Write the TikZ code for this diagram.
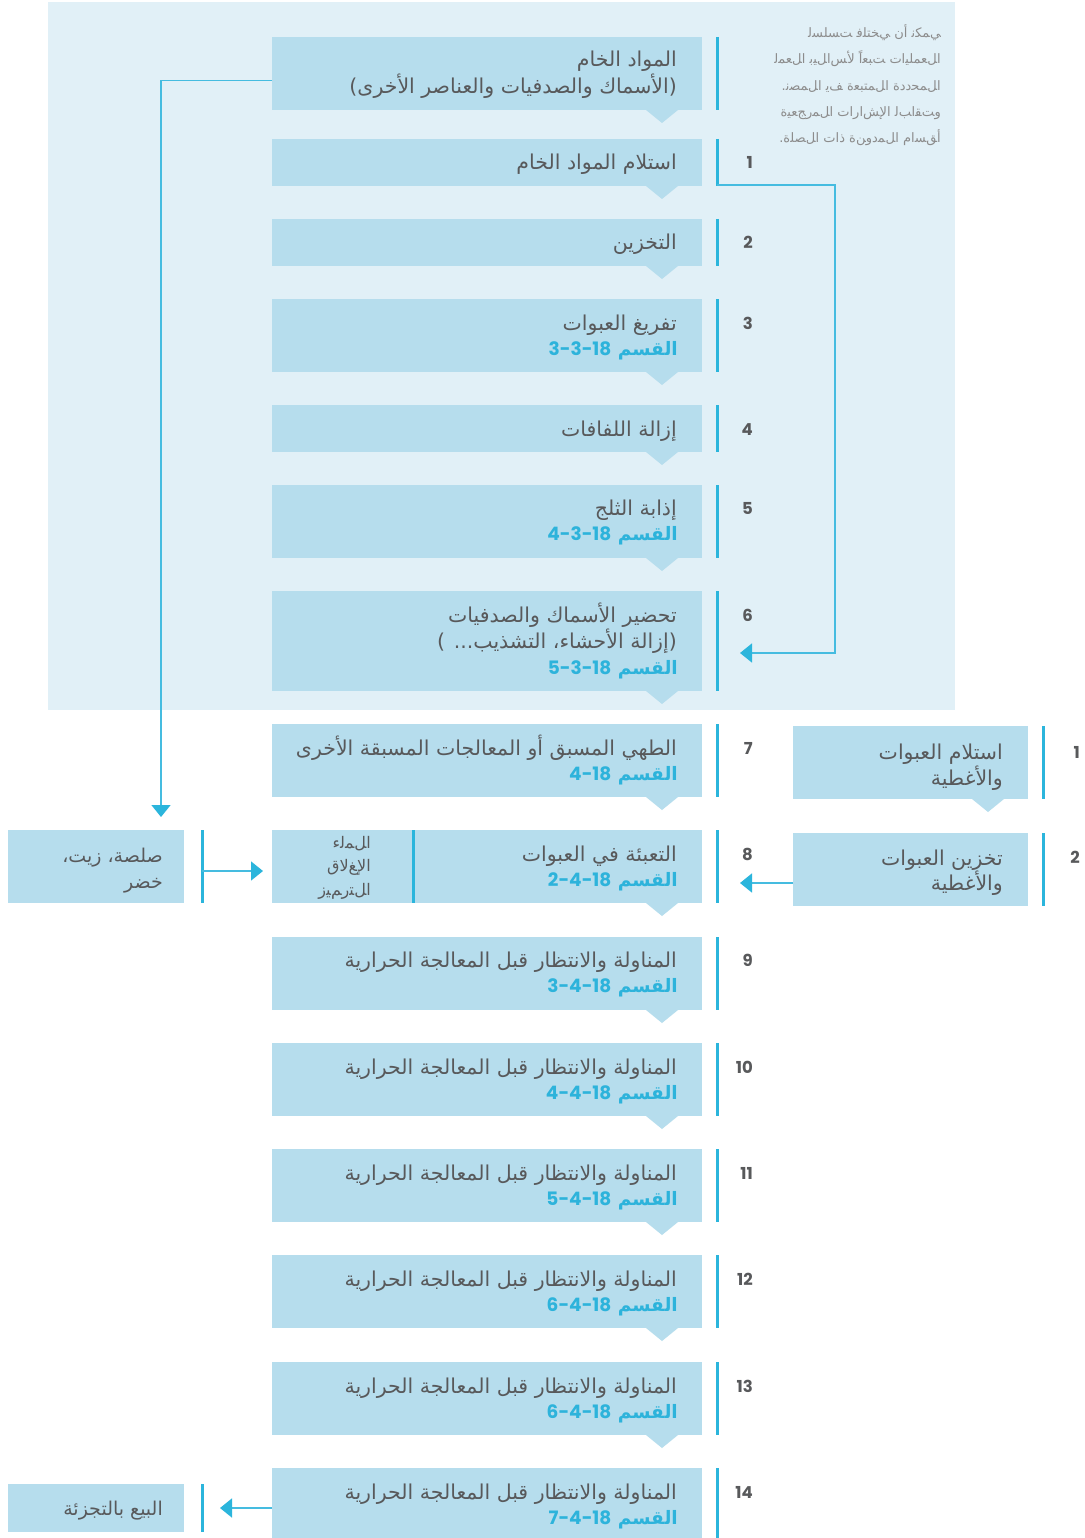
\documentclass[tikz,border=0pt]{standalone}
\usepackage{fontspec}
\usetikzlibrary{arrows.meta}
\TeXXeTstate=1
\newfontfamily\arabicfont[Script=Arabic]{DejaVu Sans}
\newfontfamily\numfont{Poppins}
\definecolor{panelc}{HTML}{E1F0F7}
\definecolor{boxc}{HTML}{B6DDED}
\definecolor{barc}{HTML}{2BB5DC}
\definecolor{linec}{HTML}{45BCE0}
\definecolor{txtc}{HTML}{58595B}
\definecolor{secc}{HTML}{2DB3DB}
\definecolor{notec}{HTML}{8C8C8C}
\newcommand\ar[1]{\beginR#1\endR}
\newcommand\secref[1]{{\color{secc}\beginR\bfseries القسم \beginL{\numfont\bfseries #1}\endL\endR}}
\def\zwj{^^^^200d}
\newcommand\Gi[1]{\hbox{#1\zwj}}
\newcommand\Gm[1]{\hbox{\zwj#1\zwj}}
\newcommand\Gf[1]{\hbox{\zwj#1}}
\newcommand\Gs[1]{\hbox{#1}}
\newcommand\droptri[1]{\fill[boxc] ([xshift=-56pt]#1.south east) -- ++(32,0) -- ++(-16,13) -- cycle;}
\newcommand\vbar[2]{\draw[bar] ([xshift=#2]#1.north east) -- ([xshift=#2]#1.south east);}
\begin{document}
\begin{tikzpicture}[x=1pt,y=-1pt,
  box/.style={fill=boxc,inner sep=0pt,outer sep=0pt,anchor=north west},
  bar/.style={draw=barc,line width=3pt},
  conn/.style={draw=linec,line width=1.6pt},
  arrowhd/.style={-{Triangle[width=19pt,length=12pt,color=barc]}},
  mt/.style={font=\arabicfont\fontsize{20.5}{24}\selectfont,text=txtc,anchor=base east,inner sep=0pt},
  lt/.style={font=\arabicfont\fontsize{19}{22}\selectfont,text=txtc,anchor=base east,inner sep=0pt},
  st/.style={font=\arabicfont\fontsize{18.5}{22}\selectfont,anchor=base east,inner sep=0pt},
  num/.style={font=\numfont\bfseries\fontsize{16.5}{19}\selectfont,text=txtc,anchor=base east,inner sep=0pt},
  nt/.style={font=\arabicfont\fontsize{13}{15}\selectfont,text=notec,anchor=base east,inner sep=0pt},
  smt/.style={font=\arabicfont\fontsize{16}{18}\selectfont,text=txtc,anchor=base east,inner sep=0pt}
]
\useasboundingbox (0,0) rectangle (1084,1538);
\fill[white] (0,0) rectangle (1084,1538);
\fill[panelc] (48,2) rectangle (955,710);

% note
\node[nt] (nl1) at (941,38) {\Gi{ل}\Gm{س}\Gm{ل}\Gm{س}\Gf{ت} \Gi{ف}\Gm{ل}\Gm{ت}\Gm{خ}\Gf{ي} \Gs{ن}\Gs{أ} \Gi{ن}\Gm{ك}\Gm{م}\Gf{ي}};
\node[nt] (nl2) at (941,64) {\Gi{ل}\Gm{م}\Gm{ع}\Gf{ل}\Gs{ا} \Gi{ب}\Gm{ي}\Gf{ل}\Gs{ا}\Gf{س}\Gs{لأ} \Gs{اً}\Gm{ع}\Gm{ب}\Gf{ت} \Gs{ت}\Gs{ا}\Gm{ي}\Gm{ل}\Gm{م}\Gm{ع}\Gf{ل}\Gs{ا}};
\node[nt] (nl3) at (941,91) {\Gs{.}\Gi{ن}\Gm{ص}\Gm{م}\Gf{ل}\Gs{ا} \Gi{ي}\Gf{ف} \Gs{ة}\Gm{ع}\Gm{ب}\Gm{ت}\Gm{م}\Gf{ل}\Gs{ا} \Gs{ة}\Gs{د}\Gs{د}\Gm{ح}\Gm{م}\Gf{ل}\Gs{ا}};
\node[nt] (nl4) at (941,117) {\Gs{ة}\Gm{ي}\Gm{ع}\Gf{ج}\Gs{ر}\Gm{م}\Gf{ل}\Gs{ا} \Gs{ت}\Gs{ا}\Gs{ر}\Gs{ا}\Gf{ش}\Gs{لإ}\Gs{ا} \Gi{ل}\Gf{ب}\Gs{ا}\Gm{ق}\Gf{ت}\Gs{و}};
\node[nt] (nl5) at (941,143) {\Gs{.}\Gs{ة}\Gm{ل}\Gm{ص}\Gf{ل}\Gs{ا} \Gs{ت}\Gs{ا}\Gs{ذ} \Gs{ة}\Gf{ن}\Gs{و}\Gs{د}\Gm{م}\Gf{ل}\Gs{ا} \Gs{م}\Gs{ا}\Gm{س}\Gf{ق}\Gs{أ}};

% main boxes
\node[box,minimum width=430pt,minimum height=73pt] (b0) at (272,37) {};
\node[box,minimum width=430pt,minimum height=47pt] (b1) at (272,139) {};
\node[box,minimum width=430pt,minimum height=47pt] (b2) at (272,219) {};
\node[box,minimum width=430pt,minimum height=73pt] (b3) at (272,299) {};
\node[box,minimum width=430pt,minimum height=47pt] (b4) at (272,405) {};
\node[box,minimum width=430pt,minimum height=73pt] (b5) at (272,485) {};
\node[box,minimum width=430pt,minimum height=100pt] (b6) at (272,591) {};
\node[box,minimum width=430pt,minimum height=73pt] (b7) at (272,724) {};
\node[box,minimum width=430pt,minimum height=73pt] (b8) at (272,830) {};
\node[box,minimum width=430pt,minimum height=73pt] (b9) at (272,937) {};
\node[box,minimum width=430pt,minimum height=73pt] (b10) at (272,1043) {};
\node[box,minimum width=430pt,minimum height=73pt] (b11) at (272,1149) {};
\node[box,minimum width=430pt,minimum height=73pt] (b12) at (272,1255) {};
\node[box,minimum width=430pt,minimum height=73pt] (b13) at (272,1362) {};
\node[box,minimum width=430pt,minimum height=70pt] (b14) at (272,1468) {};
\foreach \b in {b0,b1,b2,b3,b4,b5,b6,b7,b8,b9,b10,b11,b12,b13}{\droptri{\b}}
\foreach \b in {b0,b1,b2,b3,b4,b5,b6,b7,b8,b9,b10,b11,b12,b13,b14}{\vbar{\b}{15pt}}
\draw[bar] (413,830) -- (413,903);

% side boxes
\node[box,minimum width=235pt,minimum height=73pt] (r1) at (793,726) {};
\node[box,minimum width=235pt,minimum height=73pt] (r2) at (793,833) {};
\droptri{r1}
\vbar{r1}{15pt}
\vbar{r2}{15pt}
\node[box,minimum width=176pt,minimum height=73pt] (l1) at (8,830) {};
\node[box,minimum width=176pt,minimum height=48pt] (l2) at (8,1484) {};
\vbar{l1}{18pt}
\vbar{l2}{18pt}

% texts
\node[mt] (t0a) at (677,67) {\ar{المواد الخام}};
\node[mt] (t0b) at (677,94) {\ar{(الأسماك والصدفيات والعناصر الأخرى)}};
\node[mt] (t1) at (677,170) {\ar{استلام المواد الخام}};
\node[mt] (t2) at (677,250) {\ar{التخزين}};
\node[mt] (t3a) at (677,330) {\ar{تفريغ العبوات}};
\node[st] (t3b) at (678,355) {\secref{3-3-18}};
\node[mt] (t4) at (677,436) {\ar{إزالة اللفافات}};
\node[mt] (t5a) at (677,515) {\ar{إذابة الثلج}};
\node[st] (t5b) at (678,540) {\secref{4-3-18}};
\node[mt] (t6a) at (677,622) {\ar{تحضير الأسماك والصدفيات}};
\node[mt] (t6b) at (677,648) {\ar{(إزالة الأحشاء، التشذيب... )}};
\node[st] (t6c) at (678,674) {\secref{5-3-18}};
\node[mt] (t7a) at (677,755) {\ar{الطهي المسبق أو المعالجات المسبقة الأخرى}};
\node[st] (t7b) at (678,780) {\secref{4-18}};
\node[mt] (t8a) at (677,861) {\ar{التعبئة في العبوات}};
\node[st] (t8b) at (678,886) {\secref{2-4-18}};
\node[mt] (t9a) at (677,967) {\ar{المناولة والانتظار قبل المعالجة الحرارية}};
\node[st] (t9b) at (678,992) {\secref{3-4-18}};
\node[mt] (t10a) at (677,1074) {\ar{المناولة والانتظار قبل المعالجة الحرارية}};
\node[st] (t10b) at (678,1099) {\secref{4-4-18}};
\node[mt] (t11a) at (677,1180) {\ar{المناولة والانتظار قبل المعالجة الحرارية}};
\node[st] (t11b) at (678,1205) {\secref{5-4-18}};
\node[mt] (t12a) at (677,1286) {\ar{المناولة والانتظار قبل المعالجة الحرارية}};
\node[st] (t12b) at (678,1311) {\secref{6-4-18}};
\node[mt] (t13a) at (677,1393) {\ar{المناولة والانتظار قبل المعالجة الحرارية}};
\node[st] (t13b) at (678,1418) {\secref{6-4-18}};
\node[mt] (t14a) at (677,1499) {\ar{المناولة والانتظار قبل المعالجة الحرارية}};
\node[st] (t14b) at (678,1524) {\secref{7-4-18}};

\node[smt] (t8l1) at (371,848) {\Gs{ء}\Gi{ل}\Gm{م}\Gf{ل}\Gs{ا}};
\node[smt] (t8l2) at (371,871) {\Gs{ق}\Gs{لا}\Gf{غ}\Gs{لإ}\Gs{ا}};
\node[smt] (t8l3) at (371,895) {\Gs{ز}\Gm{ي}\Gf{م}\Gs{ر}\Gm{ت}\Gf{ل}\Gs{ا}};

\node[mt] (tr1a) at (1003,759) {\ar{استلام العبوات}};
\node[mt] (tr1b) at (1003,785) {\ar{والأغطية}};
\node[mt] (tr2a) at (1003,865) {\ar{تخزين العبوات}};
\node[mt] (tr2b) at (1003,890) {\ar{والأغطية}};
\node[lt] (tl1a) at (163,862) {\ar{صلصة، زيت،}};
\node[lt] (tl1b) at (163,888) {\ar{خضر}};
\node[lt] (tl2) at (163,1515) {\ar{البيع بالتجزئة}};

% numbers
\node[num] (n1) at (753,169) {1};
\node[num] (n2) at (753,249) {2};
\node[num] (n3) at (753,329) {3};
\node[num] (n4) at (753,435) {4};
\node[num] (n5) at (753,514) {5};
\node[num] (n6) at (753,621) {6};
\node[num] (n7) at (753,754) {7};
\node[num] (n8) at (753,860) {8};
\node[num] (n9) at (753,966) {9};
\node[num] (n10) at (753,1073) {10};
\node[num] (n11) at (753,1179) {11};
\node[num] (n12) at (753,1285) {12};
\node[num] (n13) at (753,1392) {13};
\node[num] (n14) at (753,1498) {14};
\node[num] (nr1) at (1080,758) {1};
\node[num] (nr2) at (1080,863) {2};

% connectors
\coordinate (c0e) at (161,817);
\draw[conn,arrowhd] ([yshift=-7pt]b0.west) -| (c0e);
\coordinate (c1s) at ([xshift=15pt,yshift=1pt]b1.south east);
\coordinate (c1a) at (835,185);
\coordinate (c1e) at (740,653);
\draw[conn,arrowhd] (c1s) -- (c1a) |- (c1e);
\coordinate (c8r) at (740,883);
\draw[conn,arrowhd] ([yshift=-13.5pt]r2.west) -- (c8r);
\coordinate (c8ls) at ([xshift=18pt,yshift=-4.5pt]l1.east);
\coordinate (c8le) at (263,871);
\draw[conn,arrowhd] (c8ls) -- (c8le);
\coordinate (c14e) at (220,1508);
\draw[conn,arrowhd] ([yshift=-5pt]b14.west) -- (c14e);
\end{tikzpicture}
\end{document}
